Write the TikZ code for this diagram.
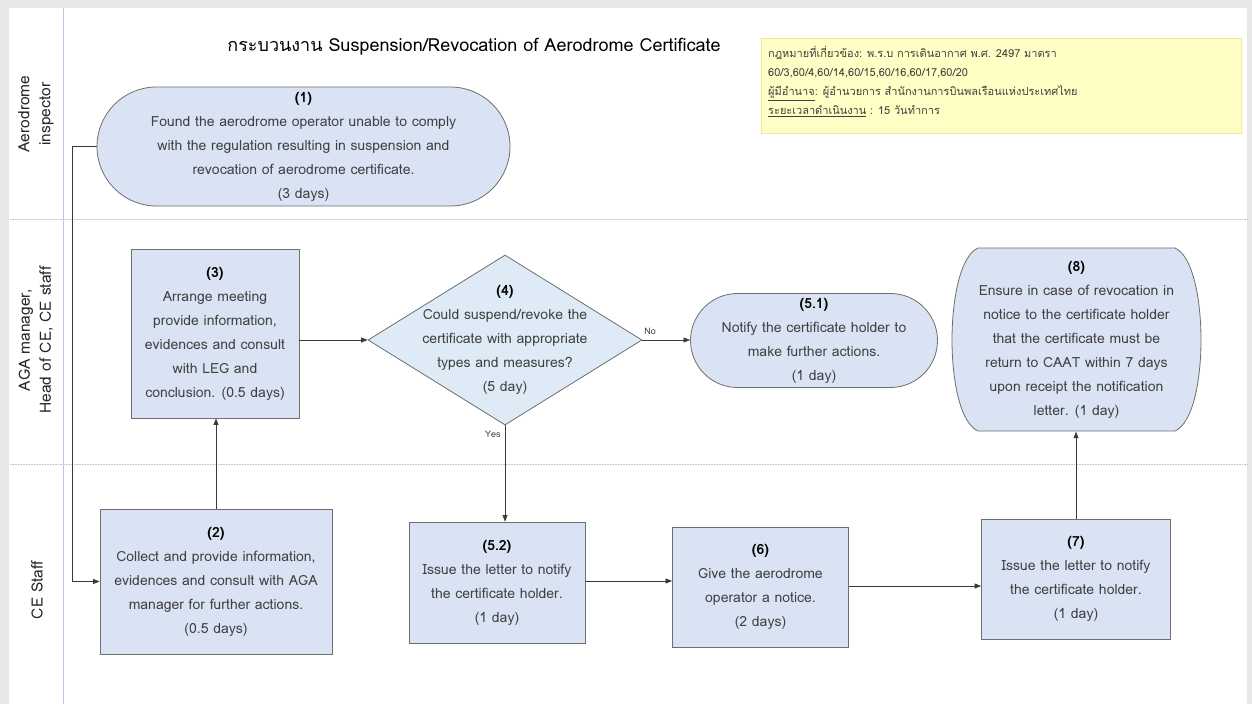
\documentclass[tikz,border=0pt]{standalone}
\usepackage{fontspec}
\setmainfont[Script=Thai]{Loma}
\usetikzlibrary{arrows.meta,shapes.geometric}

\definecolor{boxfill}{HTML}{DAE3F3}
\definecolor{diafill}{HTML}{DEEBF7}
\definecolor{boxline}{HTML}{6E6E6E}
\definecolor{txtgray}{HTML}{404040}
\definecolor{notefill}{HTML}{FFFFC5}
\definecolor{noteline}{HTML}{EFE89A}
\definecolor{lanerule}{HTML}{B4C7E7}
\definecolor{sepgray}{HTML}{BFBFBF}
\definecolor{framegray}{HTML}{E7E7E7}
\definecolor{wire}{HTML}{3A3A3A}

\newcommand{\nodefont}{\fontsize{14}{24}\selectfont}
\newcommand{\stepno}[1]{{\bfseries\color{black}#1}}

\tikzset{
  proc/.style={draw=boxline, fill=boxfill, line width=0.8pt, inner sep=0pt,
    align=center, font=\nodefont, text=txtgray},
  term/.style={proc, rounded corners=#1},
  decision/.style={diamond, draw=boxline, fill=diafill, line width=0.8pt,
    inner sep=0pt},
  inner/.style={align=center, font=\nodefont, text=txtgray, inner sep=0pt},
  conn/.style={draw=wire, line width=0.7pt,
    -{Triangle[length=6.5pt,width=5pt]}},
  lanelabel/.style={rotate=90, align=center, font=\fontsize{15.5}{21}\selectfont,
    text=black!85},
  branchlabel/.style={font=\fontsize{9}{10}\selectfont, text=txtgray, inner sep=0pt},
  lanesep/.style={draw=sepgray, line width=0.6pt, dash pattern=on 0.8pt off 0.8pt},
}

\begin{document}
\begin{tikzpicture}[x=1pt,y=-1pt]
\useasboundingbox (0,0) rectangle (1252,704);

% page background and frame
\fill[white] (0,0) rectangle (1252,704);
\fill[framegray] (0,0) rectangle (1252,8);
\fill[framegray] (0,0) rectangle (9,704);
\fill[framegray] (1247,0) rectangle (1252,704);

% swimlanes
\draw[lanerule, line width=0.8pt] (63,8) -- (63,704);
\draw[lanesep] (10,219) -- (1247,219);
\draw[lanesep] (10,464) -- (1247,464);
\node[lanelabel] (laneA) at (36,114) {Aerodrome\\inspector};
\node[lanelabel] (laneB) at (36,340) {AGA manager,\\Head of CE, CE staff};
\node[lanelabel] (laneC) at (37,590) {CE Staff};

% title
\node[font=\fontsize{18}{22}\selectfont, text=black, inner sep=0pt] (title) at (474,47)
  {กระบวนงาน Suspension/Revocation of Aerodrome Certificate};

% legal note
\node[draw=noteline, fill=notefill, line width=0.8pt, minimum width=480pt,
  minimum height=95pt, inner sep=0pt] (notebox) at (1001,85.5) {};
\node[anchor=north west, align=left, inner sep=0pt, text=txtgray,
  font=\fontsize{11}{19}\selectfont] (notetext) at (768,46)
  {กฎหมายที่เกี่ยวข้อง: พ.ร.บ การเดินอากาศ พ.ศ. 2497 มาตรา\\
   60/3,60/4,60/14,60/15,60/16,60/17,60/20\\
   \underline{ผู้มีอำนาจ}: ผู้อำนวยการ สำนักงานการบินพลเรือนแห่งประเทศไทย\\
   \underline{ระยะเวลาดำเนินงาน} : 15 วันทำการ};

% step 1 (terminator)
\node[term=59.5pt, minimum width=413pt, minimum height=119pt] (n1) at (303.5,146.5)
  {\stepno{(1)}\\Found the aerodrome operator unable to comply\\
   with the regulation resulting in suspension and\\
   revocation of aerodrome certificate.\\(3 days)};

% step 2
\node[proc, minimum width=232pt, minimum height=145pt] (n2) at (216,581.5)
  {\stepno{(2)}\\Collect and provide information,\\
   evidences and consult with AGA\\manager for further actions.\\(0.5 days)};

% step 3
\node[proc, minimum width=168pt, minimum height=169pt] (n3) at (215,333.5)
  {\stepno{(3)}\\Arrange meeting\\provide information,\\
   evidences and consult\\with LEG and\\conclusion. (0.5 days)};

% step 4 (decision)
\node[decision, minimum width=274pt, minimum height=170pt,
  label={[inner]center:{\stepno{(4)}\\Could suspend/revoke the\\
   certificate with appropriate\\types and measures?\\(5 day)}}] (n4) at (505,340) {};

% step 5.1 (terminator)
\node[term=47pt, minimum width=247pt, minimum height=94pt] (n51) at (814,340.5)
  {\stepno{(5.1)}\\Notify the certificate holder to\\make further actions.\\(1 day)};

% step 5.2
\node[proc, minimum width=176pt, minimum height=121pt] (n52) at (497,582.5)
  {\stepno{(5.2)}\\Issue the letter to notify\\the certificate holder.\\(1 day)};

% step 6
\node[proc, minimum width=176pt, minimum height=120pt] (n6) at (760.5,587)
  {\stepno{(6)}\\Give the aerodrome\\operator a notice.\\(2 days)};

% step 7
\node[proc, minimum width=189pt, minimum height=120pt] (n7) at (1076,579)
  {\stepno{(7)}\\Issue the letter to notify\\the certificate holder.\\(1 day)};

% step 8: box with bulging sides
\path[draw=boxline, fill=boxfill, line width=0.8pt]
  (978,248) -- (1175,248)
  .. controls (1193,256) and (1201,300) .. (1201,340)
  .. controls (1201,380) and (1193,423) .. (1175,431)
  -- (978,431)
  .. controls (960,423) and (952,380) .. (952,340)
  .. controls (952,300) and (960,256) .. (978,248) -- cycle;
\node[inner, minimum width=249pt, minimum height=183pt] (n8) at (1076.5,340)
  {\stepno{(8)}\\Ensure in case of revocation in\\notice to the certificate holder\\
   that the certificate must be\\return to CAAT within 7 days\\
   upon receipt the notification\\letter. (1 day)};

% connectors
\draw[conn] (n1.west) -- ++(-24,0) |- (n2.west);
\draw[conn] (n2.north) -- (n2.north |- n3.south);
\draw[conn] (n3.east |- n4.west) -- (n4.west);
\draw[conn] (n4.east) -- (n4.east -| n51.west)
  node[branchlabel, pos=0.16, above=5pt] (lblno) {No};
\draw[conn] (n4.south) -- (n4.south |- n52.north)
  node[branchlabel, pos=0.09, left=4pt] (lblyes) {Yes};
\draw[conn] (n52.east |- 0,581) -- (n6.west |- 0,581);
\draw[conn] (n6.east |- 0,586) -- (n7.west |- 0,586);
\draw[conn] (n7.north) -- (n7.north |- n8.south);

\end{tikzpicture}
\end{document}
